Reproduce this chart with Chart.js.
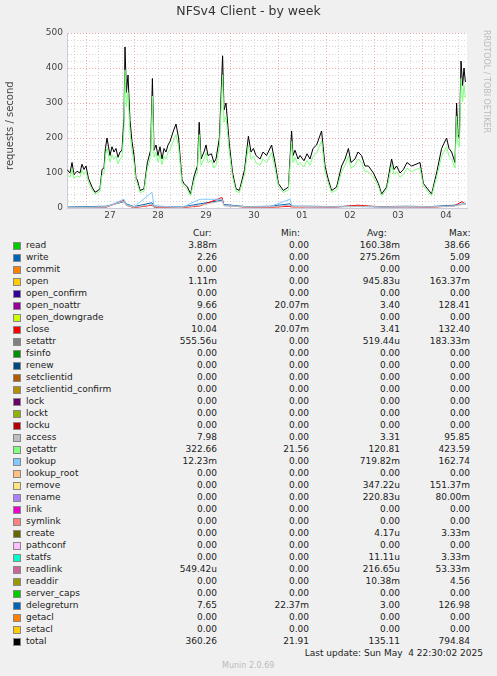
<!DOCTYPE html>
<html><head><meta charset="utf-8">
<script src="https://cdn.jsdelivr.net/npm/chart.js@4"></script>
<style>
body{margin:0;background:#F0F0F0;font-family:"DejaVu Sans",sans-serif;color:#222;}
#wrap{position:relative;width:497px;height:676px;}
#c{position:absolute;left:0;top:0;}
.t{position:absolute;white-space:pre;font-size:9px;line-height:12px;}
.sq{position:absolute;width:6px;height:6px;border:0.5px solid #888;}
</style></head><body>
<div id="wrap"><canvas id="c" width="497" height="225"></canvas>
<div class="t" style="left:0;width:497px;top:5px;text-align:center;font-size:12.5px;color:#333">NFSv4 Client - by week</div>
<div class="t" style="left:4px;top:170px;transform:rotate(-90deg);transform-origin:left top;font-size:10px;color:#444">requests / second</div>
<div class="t" style="left:492px;top:30px;transform:rotate(90deg);transform-origin:left top;font-size:8px;color:#bbb">RRDTOOL / TOBI OETIKER</div>
<div id="leg"></div>
</div>
<script>
const times=[-9.5,-8,-7,-6,-4.5,-3,-2,-1,0,1.2,
3,4.5,6,7,8,9,9.7,10.5,12,13,
14,15,16,17,18,19,19.5,20.2,21,22,
23,24,25,25.7,27,29,30,30.7,32.3,33.2,
34,35,36,37,38,39,40,41,42,43.7,
45,46.3,48,49,50.7,52.3,54,55.7,56.6,57.5,
59,60,61,62.7,64,65,66.7,68.3,69,70,
71.7,73.3,75,76.7,78,79.3,81.2,82.5,83.7,85,
87,88.5,90.3,92.8,94.5,96.2,98.7,101.2,102.8,103.5,
104.5,106,107,109,110.5,112,113.5,115.3,117.8,119.5,
121.2,122.8,125.3,127.8,129.5,131.2,132.5,134.5,136,137.8,
139.5,141.2,143.7,146.2,147.8,150.3,152.8,154,155.3,157,
158.7,160.5,162.8,165,167,168.7,172.8,175.3,177.8,179,
180.3,181.5,182.8,184.5,185.3,186,186.7,187.5,188.3,189,189.7];
const total=[110,100,130,95,105,100,125,110,120,85,
60,45,50,55,110,115,170,200,150,175,
160,170,145,160,165,260,460,330,380,250,
190,150,85,80,50,55,100,130,165,370,
165,180,150,175,140,170,160,180,190,220,
240,200,80,70,60,40,90,120,245,140,
160,180,150,155,130,140,200,435,280,300,
180,100,55,50,80,110,205,160,170,150,
140,160,150,180,130,70,50,60,220,150,
165,140,150,135,155,140,170,180,220,120,
80,50,60,120,140,170,130,140,160,150,
120,120,100,70,40,60,140,110,120,100,
110,130,120,125,130,70,40,100,170,185,
200,170,160,130,300,210,200,420,350,400,360];
const getattr=[95,88,112,84,92,88,108,96,104,74,
52,40,44,48,95,100,148,172,132,152,
140,148,126,140,144,225,395,290,330,215,
165,130,74,70,44,48,88,114,144,320,
145,158,132,152,124,148,140,158,166,192,
210,175,70,62,52,35,78,104,210,122,
140,158,130,136,114,122,175,380,245,262,
158,88,48,44,70,96,180,140,148,130,
122,140,130,158,114,62,44,52,190,130,
144,122,130,118,136,122,148,158,192,104,
70,44,52,104,122,148,114,122,140,130,
104,104,88,62,35,52,122,96,104,88,
96,114,104,110,114,62,35,88,148,162,
175,148,140,114,262,182,175,370,305,350,315];
const smallTimes=[-9,0,10,19,20,24,33,34,48,57,68,69,80,92,102,103,112,124,136,148,160,172,184,188,190];
const write=[3,4,5,18,12,4,15,5,3,12,22,10,4,5,12,5,5,4,6,4,5,4,8,10,12];
const lookup=[2,2,3,25,10,3,45,6,2,25,25,8,3,4,25,6,3,3,4,2,3,3,6,12,14];
const closeS=[1,1,2,22,8,1,8,2,1,6,30,8,2,2,5,3,3,2,8,2,3,2,6,18,10];
const access=[2,2,3,20,8,2,10,3,2,8,20,6,3,3,8,4,4,3,5,3,4,3,5,10,10];
const dayLabels=['27','28','29','30','01','02','03','04'];

const names=['read','write','commit','open','open_confirm','open_noattr','open_downgrade','close','setattr','fsinfo','renew','setclientid','setclientid_confirm','lock','lockt','locku','access','getattr','lookup','lookup_root','remove','rename','link','symlink','create','pathconf','statfs','readlink','readdir','server_caps','delegreturn','getacl','setacl','total'];
const colors=['#00CC00','#0066B3','#FF8000','#FFCC00','#330099','#990099','#CCFF00','#FF0000','#808080','#008F00','#00487D','#B35A00','#B38F00','#6B006B','#8FB300','#B30000','#BEBEBE','#80FF80','#80C9FF','#FFC080','#FFE680','#AA80FF','#EE00CC','#FF8080','#666600','#FFBFFF','#00FFCC','#CC6699','#999900','#00CC00','#0066B3','#FF8000','#FFCC00','#000000'];
const cur=['3.88m','2.26','0.00','1.11m','0.00','9.66','0.00','10.04','555.56u','0.00','0.00','0.00','0.00','0.00','0.00','0.00','7.98','322.66','12.23m','0.00','0.00','0.00','0.00','0.00','0.00','0.00','0.00','549.42u','0.00','0.00','7.65','0.00','0.00','360.26'];
const mins=['0.00','0.00','0.00','0.00','0.00','20.07m','0.00','20.07m','0.00','0.00','0.00','0.00','0.00','0.00','0.00','0.00','0.00','21.56','0.00','0.00','0.00','0.00','0.00','0.00','0.00','0.00','0.00','0.00','0.00','0.00','22.37m','0.00','0.00','21.91'];
const avgs=['160.38m','275.26m','0.00','945.83u','0.00','3.40','0.00','3.41','519.44u','0.00','0.00','0.00','0.00','0.00','0.00','0.00','3.31','120.81','719.82m','0.00','347.22u','220.83u','0.00','0.00','4.17u','0.00','11.11u','216.65u','10.38m','0.00','3.00','0.00','0.00','135.11'];
const maxs=['38.66','5.09','0.00','163.37m','0.00','128.41','0.00','132.40','183.33m','0.00','0.00','0.00','0.00','0.00','0.00','0.00','95.85','423.59','162.74','0.00','151.37m','80.00m','0.00','0.00','3.33m','0.00','3.33m','53.33m','4.56','0.00','126.98','0.00','0.00','794.84'];

let h='<div class="t" style="left:193px;top:227px">Cur:</div><div class="t" style="left:281px;top:227px">Min:</div><div class="t" style="left:367px;top:227px">Avg:</div><div class="t" style="left:449px;top:227px">Max:</div>';
names.forEach((n,i)=>{const y=239+i*12;
h+=`<div class="sq" style="left:13px;top:${y+3}px;background:${colors[i]}"></div><div class="t" style="left:26px;top:${y}px">${n}</div>`;
[[cur,217],[mins,309],[avgs,400],[maxs,470]].forEach(([a,r])=>{h+=`<div class="t" style="right:${497-r}px;top:${y}px">${a[i]}</div>`;});});
h+='<div class="t" style="right:14px;top:647px">Last update: Sun May  4 22:30:02 2025</div><div class="t" style="left:222px;top:660px;font-size:8px;color:#bbb">Munin 2.0.69</div>';
document.getElementById('leg').innerHTML=h;

const pts=(t,v)=>t.map((x,i)=>({x,y:v[i]}));
const ds=(label,t,v,c,w)=>({label,data:pts(t,v),borderColor:c,borderWidth:w||1,pointRadius:0,tension:0,fill:false});
const bg={id:'bg',beforeDraw(c){const g=c.ctx,a=c.chartArea;g.save();g.fillStyle='#F0F0F0';g.fillRect(0,0,c.width,c.height);g.fillStyle='#fff';g.fillRect(a.left,a.top,a.right-a.left,a.bottom-a.top);g.restore();}};
new Chart(document.getElementById('c'),{type:'line',
data:{datasets:[ds('access',smallTimes,access,'#BEBEBE'),ds('lookup',smallTimes,lookup,'#80C9FF'),ds('close',smallTimes,closeS,'#FF0000'),ds('write',smallTimes,write,'#0066B3'),ds('getattr',times,getattr,'#80FF80'),ds('total',times,total,'#000000')]},
options:{responsive:false,animation:false,events:[],layout:{padding:{top:33,right:30,left:0,bottom:0}},
plugins:{legend:{display:false},tooltip:{enabled:false}},
scales:{x:{type:'linear',min:-9.5,max:190.5,
afterFit(s){s.height=17;},
afterBuildTicks(s){const t=[];for(let v=-6;v<=186;v+=6)t.push({value:v});s.ticks=t;},
ticks:{autoSkip:false,maxRotation:0,font:{family:'DejaVu Sans',size:9},color:'#444',padding:2,
callback:v=>((v%24)+24)%24===12?dayLabels[Math.floor(v/24)]||'':''},
grid:{color:c=>((c.tick&&c.tick.value%24)===0)?'rgba(230,110,110,0.6)':'rgba(190,190,190,0.6)',tickLength:0,drawTicks:false},border:{display:true,color:'#ccd',dash:[1,2]}},
y:{min:0,max:500,afterFit(s){s.width=67;},
afterBuildTicks(s){const t=[];for(let v=0;v<=500;v+=20)t.push({value:v});s.ticks=t;},
ticks:{autoSkip:false,font:{family:'DejaVu Sans',size:9},color:'#444',padding:4,callback:v=>v%100===0?v:''},
grid:{color:c=>(c.tick&&c.tick.value%100===0&&c.tick.value>0)?'rgba(230,110,110,0.6)':'rgba(190,190,190,0.6)',drawTicks:false},border:{display:true,color:'#ccd',dash:[1,2]}}}},
plugins:[bg]});
</script></body></html>
